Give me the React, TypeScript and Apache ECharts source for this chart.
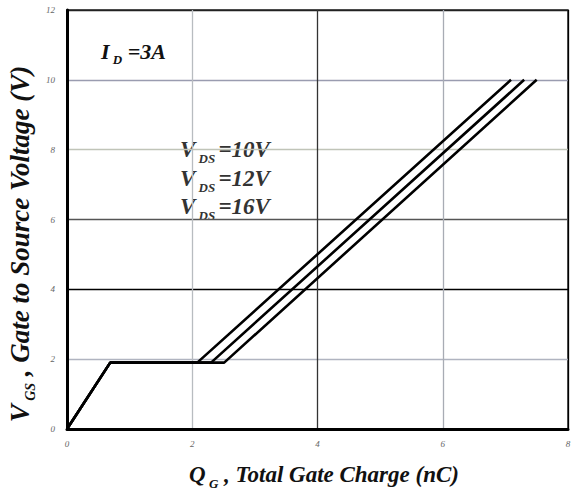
import React, { useEffect, useRef } from "react";
import * as echarts from "echarts";

// Gate charge (nC) break points for each V_DS curve
const qgVds10 = [0, 0.69, 2.08, 7.09];
const qgVds12 = [0, 0.69, 2.3, 7.3];
const qgVds16 = [0, 0.69, 2.51, 7.5];
// Gate-source voltage (V) at those break points
const vgsPoints = [0, 1.9, 1.9, 10];

const seriesNames = ["VDS=10V", "VDS=12V", "VDS=16V"];
const xTicks = [0, 2, 4, 6, 8];
const yTicks = [0, 2, 4, 6, 8, 10, 12];

const SERIF = "'Liberation Serif', 'DejaVu Serif', serif";

const main = (size: number, fill = "#111") => ({
  fontFamily: SERIF,
  fontStyle: "italic",
  fontWeight: "bold",
  fontSize: size,
  fill,
  verticalAlign: "bottom",
});

export default function App() {
  const ref = useRef<HTMLDivElement>(null);
  useEffect(() => {
    if (!ref.current) return;
    const chart = echarts.init(ref.current, undefined, { renderer: "svg" });
    const curves = [qgVds10, qgVds12, qgVds16];
    chart.setOption({
      animation: false,
      backgroundColor: "#fff",
      grid: {
        left: 67,
        right: 3,
        top: 10,
        bottom: 65,
        show: true,
        borderColor: "#222",
        borderWidth: 1.5,
        containLabel: false,
        outerBoundsMode: "none",
      },
      xAxis: {
        type: "value",
        min: xTicks[0],
        max: xTicks[xTicks.length - 1],
        interval: 2,
        axisLine: { show: true, onZero: false, lineStyle: { color: "#000", width: 3 } },
        axisTick: { show: false },
        axisLabel: {
          margin: 10,
          fontFamily: SERIF,
          fontStyle: "italic",
          fontSize: 9,
          color: "#666",
        },
        splitLine: {
          show: true,
          lineStyle: { color: ["#000", "#b8bcc0", "#333", "#a8acb4", "#000"], width: 1.3 },
        },
      },
      yAxis: {
        type: "value",
        min: yTicks[0],
        max: yTicks[yTicks.length - 1],
        interval: 2,
        axisLine: { show: true, onZero: false, lineStyle: { color: "#000", width: 3 } },
        axisTick: { show: false },
        axisLabel: {
          margin: 12,
          fontFamily: SERIF,
          fontStyle: "italic",
          fontSize: 9,
          color: "#666",
        },
        splitLine: {
          show: true,
          lineStyle: {
            color: ["#000", "#b0b4c0", "#000", "#555", "#c0c4b8", "#9a9cb0", "#222"],
            width: 1.3,
          },
        },
      },
      series: curves.map((qg, i) => ({
        type: "line",
        name: seriesNames[i],
        showSymbol: false,
        data: qg.map((q, j) => [q, vgsPoints[j]]),
        lineStyle: { color: "#000", width: 2.6 },
        z: 5,
      })),
      graphic: [
        {
          type: "text",
          x: 101,
          y: 62,
          style: {
            text: "{m|I}{s| D}{m| =3A}",
            rich: { m: main(22), s: { ...main(13), padding: [0, 0, -4, 0] } },
            textVerticalAlign: "bottom",
          },
        },
        ...["10", "12", "16"].map((v, i) => ({
          type: "text",
          x: 180,
          y: [161, 190, 218][i],
          style: {
            text: `{m|V}{s| DS }{m|=${v}V}`,
            rich: {
              m: main(23, "#333"),
              s: { ...main(13, "#333"), padding: [0, 0, -4, 0] },
            },
            textVerticalAlign: "bottom",
          },
        })),
        {
          type: "text",
          x: 324,
          y: 486,
          style: {
            text: "{m|Q}{s| G}{m| , Total Gate Charge (nC)}",
            rich: { m: main(23), s: { ...main(13), padding: [0, 0, -4, 0] } },
            textAlign: "center",
            textVerticalAlign: "bottom",
          },
        },
        {
          type: "text",
          x: 33,
          y: 244,
          rotation: Math.PI / 2,
          style: {
            text: "{m|V}{s| GS}{m| , Gate to Source Voltage (V)}",
            rich: { m: main(27), s: { ...main(14), padding: [0, 0, -4, 0] } },
            textAlign: "center",
            textVerticalAlign: "bottom",
          },
        },
      ],
    });
    return () => chart.dispose();
  }, []);
  return (
    <div
      ref={ref}
      style={{ position: "fixed", left: 0, top: 0, width: 571, height: 494 }}
    />
  );
}
